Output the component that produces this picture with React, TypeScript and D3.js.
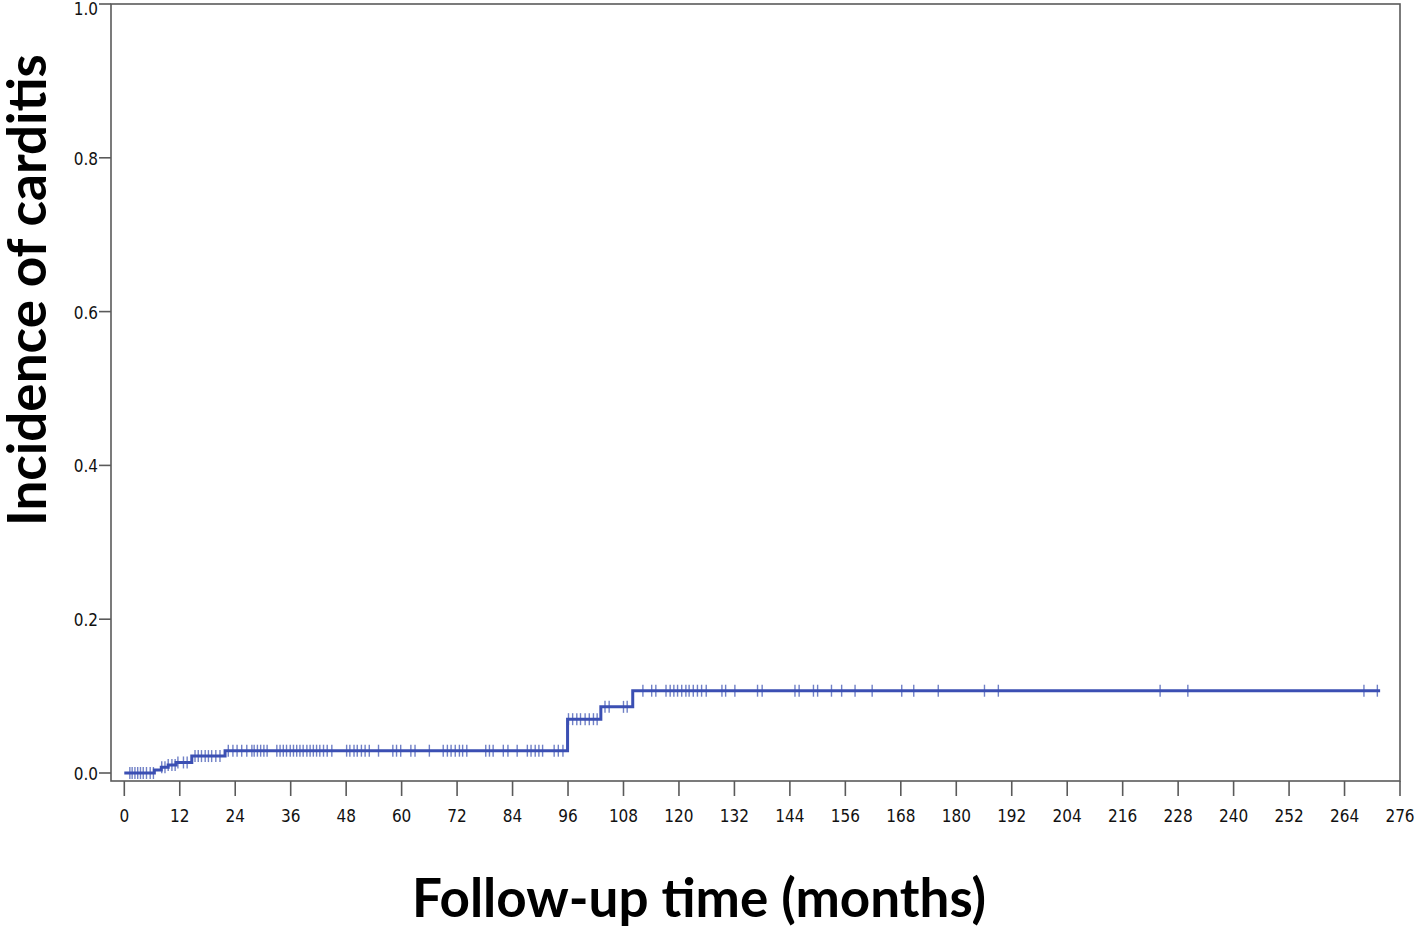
import * as d3 from "d3";
import { useRef, useEffect } from "react";

// step curve: cumulative incidence (event times in months)
const stepTimes = [0, 6.5, 8, 9.5, 11.2, 14.6, 21.8, 95.9, 103.1, 110, 271.7];
const stepValues = [0, 0.004, 0.0074, 0.0105, 0.0137, 0.022, 0.029, 0.07, 0.086, 0.107, 0.107];

// censored observations (months)
const censorTimes = [
	1.2, 1.7, 2.3, 2.9, 3.5, 4.1, 4.8, 5.6, 6.3,
	8.1, 8.8, 9.5, 10.3, 11.0, 11.6, 12.8, 13.6,
	15.3, 16.0, 16.7, 17.5, 18.2, 18.9, 19.8, 20.7,
	22.5, 23.5, 24.4, 25.4, 26.5, 27.6, 28.1, 28.8, 29.5, 30.2, 30.9,
	33.0, 33.7, 34.4, 35.1, 35.9, 36.6, 37.3, 38.0, 38.7, 39.5, 40.2, 40.9, 41.6, 42.3, 43.1, 43.9, 44.9,
	48.1, 48.8, 49.7, 50.4, 51.3, 52.1, 53.0, 55.0, 58.1, 58.9, 59.8, 62.0, 62.9, 66.0,
	69.0, 69.9, 70.7, 71.6, 72.5, 73.2, 74.1, 78.2, 79.0, 79.8, 82.0, 83.0, 85.0,
	87.2, 88.0, 88.9, 89.7, 90.5, 93.0, 93.9, 94.9,
	96.1, 97.0, 97.9, 98.7, 99.7, 100.6, 101.5, 102.3,
	104.0, 104.9, 108.0, 108.8,
	112.2, 114.1, 115.0, 117.2, 118.1, 118.9, 119.7, 120.6, 121.5, 122.2, 123.1, 124.0, 124.9, 125.9,
	129.3, 130.1, 132.1, 137.0, 138.0, 145.1, 146.0, 149.1, 150.0, 153.0, 155.2, 158.1, 161.8,
	168.2, 170.8, 176.1, 186.1, 189.1, 224.1, 230.1, 268.2, 271.1,
];

const xTicks = d3.range(0, 277, 12);
const yTicks = [0, 0.2, 0.4, 0.6, 0.8, 1.0];

const W = 1416;
const H = 929;

const App = () => {
	const ref = useRef(null);

	useEffect(() => {
		const svg = d3.select(ref.current);
		svg.selectAll("*").remove();

		const frame = { left: 111, right: 1400, top: 4, bottom: 781 };

		const x = d3.scaleLinear().domain([0, 276]).range([124.3, 1400]);
		const y = d3.scaleLinear().domain([0, 1]).range([773, 4]);

		const axisColor = "#5a5a5a";
		const tickFont = "'DejaVu Sans Condensed', 'Liberation Sans Narrow', sans-serif";

		// frame
		svg.append("rect")
			.attr("x", frame.left)
			.attr("y", frame.top)
			.attr("width", frame.right - frame.left)
			.attr("height", frame.bottom - frame.top)
			.attr("fill", "none")
			.attr("stroke", axisColor)
			.attr("stroke-width", 1.6);

		// y ticks
		const yg = svg.append("g");
		yTicks.forEach(t => {
			yg.append("line")
				.attr("x1", frame.left - 12).attr("x2", frame.left)
				.attr("y1", y(t)).attr("y2", y(t))
				.attr("stroke", axisColor).attr("stroke-width", 1.6);
			yg.append("text")
				.attr("x", frame.left - 13)
				.attr("y", Math.max(y(t) + 7, 15))
				.attr("text-anchor", "end")
				.style("font-family", tickFont)
				.style("font-size", "17px")
				.attr("fill", "#111")
				.text(d3.format(".1f")(t));
		});

		// x ticks
		const xg = svg.append("g");
		xTicks.forEach(t => {
			xg.append("line")
				.attr("x1", x(t)).attr("x2", x(t))
				.attr("y1", frame.bottom).attr("y2", frame.bottom + 15)
				.attr("stroke", axisColor).attr("stroke-width", 1.6);
			xg.append("text")
				.attr("x", x(t))
				.attr("y", 822)
				.attr("text-anchor", "middle")
				.style("font-family", tickFont)
				.style("font-size", "17px")
				.attr("fill", "#111")
				.text(t);
		});

		const lineColor = "#3b4fb3";

		// censor marks
		const valueAt = (t) => {
			const i = d3.bisectRight(stepTimes, t) - 1;
			return stepValues[Math.max(0, i)];
		};
		svg.append("g")
			.selectAll("line")
			.data(censorTimes)
			.enter()
			.append("line")
			.attr("x1", d => x(d)).attr("x2", d => x(d))
			.attr("y1", d => y(valueAt(d)) - 6)
			.attr("y2", d => y(valueAt(d)) + 6)
			.attr("stroke", "#7080c6")
			.attr("stroke-width", 1.4);

		// step curve
		const pts = stepTimes.map((t, i) => [t, stepValues[i]]);
		const line = d3.line()
			.x(d => x(d[0]))
			.y(d => y(d[1]))
			.curve(d3.curveStepAfter);
		svg.append("path")
			.attr("d", line(pts))
			.attr("fill", "none")
			.attr("stroke", lineColor)
			.attr("stroke-width", 3);

		// axis titles
		svg.append("text")
			.attr("transform", `translate(46, 290) rotate(-90)`)
			.attr("text-anchor", "middle")
			.style("font-family", "Lato, 'Open Sans', sans-serif")
			.style("font-weight", "bold")
			.style("font-size", "53px")
			.attr("fill", "#000")
			.text("Incidence of carditis");

		svg.append("text")
			.attr("x", 699)
			.attr("y", 917)
			.attr("text-anchor", "middle")
			.style("font-family", "Lato, 'Open Sans', sans-serif")
			.style("font-weight", "bold")
			.style("font-size", "53px")
			.attr("fill", "#000")
			.text("Follow-up time (months)");
	}, []);

	return (
		<svg ref={ref} width={W} height={H}
			style={{ position: "absolute", left: 0, top: 0, background: "#fff" }} />
	);
};

export default App;
